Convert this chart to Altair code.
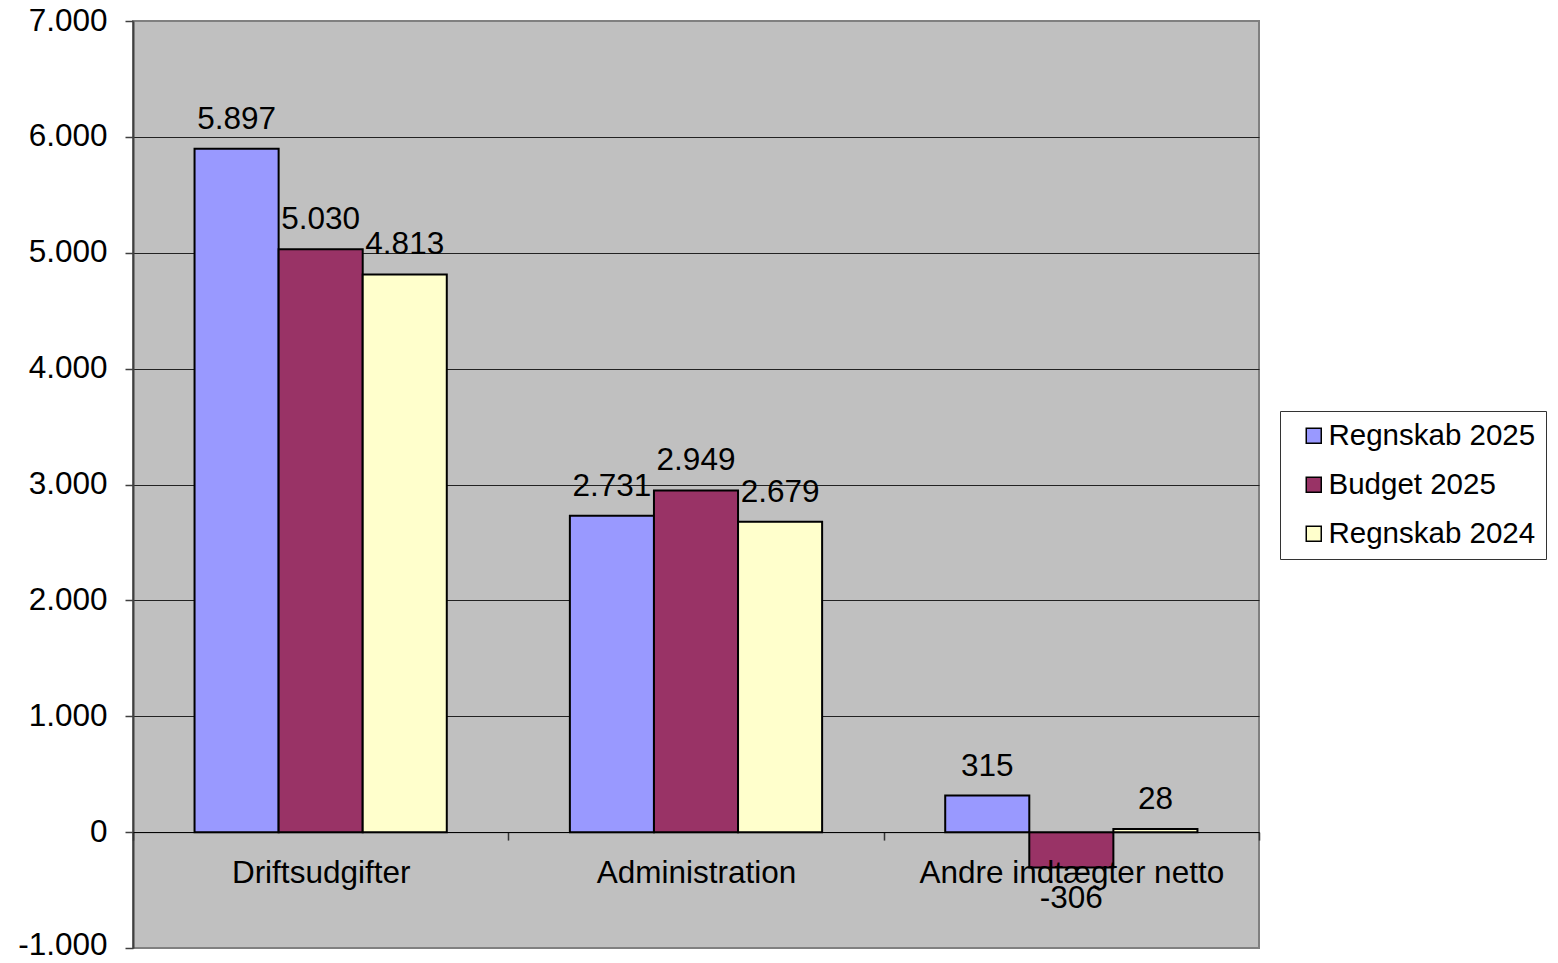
import altair as alt
import pandas as pd

categories = ["Driftsudgifter", "Administration", "Andre indtægter netto"]
series = ["Regnskab 2025", "Budget 2025", "Regnskab 2024"]
regnskab_2025 = [5897, 2731, 315]
budget_2025 = [5030, 2949, -306]
regnskab_2024 = [4813, 2679, 28]
colors = ["#9999FF", "#993366", "#FFFFCC"]
y_ticks = [-1000, 0, 1000, 2000, 3000, 4000, 5000, 6000, 7000]

rows = []
for s, vals in zip(series, [regnskab_2025, budget_2025, regnskab_2024]):
    for c, v in zip(categories, vals):
        rows.append({"category": c, "series": s, "value": v,
                     "label": f"{v:,}".replace(",", ".")})
df = pd.DataFrame(rows)

FONT = "Liberation Sans"
FS = 31.5

base = alt.Chart(df).encode(
    x=alt.X("category:N", sort=categories,
            scale=alt.Scale(paddingInner=0, paddingOuter=0),
            axis=alt.Axis(title=None, orient="bottom", offset=-115.9, labelAngle=0,
                          tickBand="extent", tickSize=8, tickColor="#333", tickWidth=1.5,
                          domainColor="#000", domainWidth=1, labelFontSize=FS,
                          labelFont=FONT, labelColor="#000", labelPadding=17,
                          labelLimit=600, labelOverlap=False, zindex=1)),
    xOffset=alt.XOffset("series:N", sort=series,
                        scale=alt.Scale(paddingInner=0, paddingOuter=0.732)),
    y=alt.Y("value:Q",
            scale=alt.Scale(domain=[-1000, 7000], nice=False, zero=False),
            axis=alt.Axis(title=None, values=y_ticks,
                          labelExpr="replace(replace(format(datum.value, ',.0f'), ',', '.'), '\u2212', '-')",
                          tickSize=8, tickColor="#404040", tickWidth=1.5,
                          domainColor="#404040", domainWidth=2,
                          labelFontSize=FS, labelFont=FONT, labelColor="#000",
                          labelPadding=18, labelOverlap=False,
                          labelOffset={"condition": {"test": "datum.value == -1000", "value": -3},
                                       "value": 0},
                          gridColor={"condition": {"test": "datum.value == 7000 || datum.value == -1000",
                                                   "value": "#808080"}, "value": "#222"},
                          gridWidth=1)),
)

bars = base.mark_bar(stroke="black", strokeWidth=2).encode(
    color=alt.Color("series:N", sort=series,
                    scale=alt.Scale(domain=series, range=colors),
                    legend=alt.Legend(orient="none", legendX=1147, legendY=390, title=None,
                                      direction="vertical", symbolType="square",
                                      symbolSize=225, symbolStrokeColor="black",
                                      symbolStrokeWidth=1.5, labelFontSize=29.5,
                                      labelFont=FONT, labelColor="#000", labelLimit=600,
                                      padding=10, rowPadding=18, symbolOffset=9,
                                      labelOffset=0, strokeColor="#333", fillColor="white"))
)

pos_labels = base.mark_text(dy=-20, baseline="alphabetic", fontSize=FS, font=FONT,
                            color="#000").encode(text="label:N").transform_filter("datum.value >= 0")
neg_labels = base.mark_text(dy=40, baseline="alphabetic", fontSize=FS, font=FONT,
                            color="#000").encode(text="label:N").transform_filter("datum.value < 0")

chart = alt.layer(bars, pos_labels, neg_labels).properties(
    width=1126, height=927,
    autosize=alt.AutoSizeParams(type="none"),
    padding={"left": 125, "top": 13, "right": 290, "bottom": 7},
    background="white",
).configure_view(fill="#C0C0C0", stroke="#808080", strokeWidth=2)

chart.save("out.html", embed_options={"renderer": "svg", "actions": False})
